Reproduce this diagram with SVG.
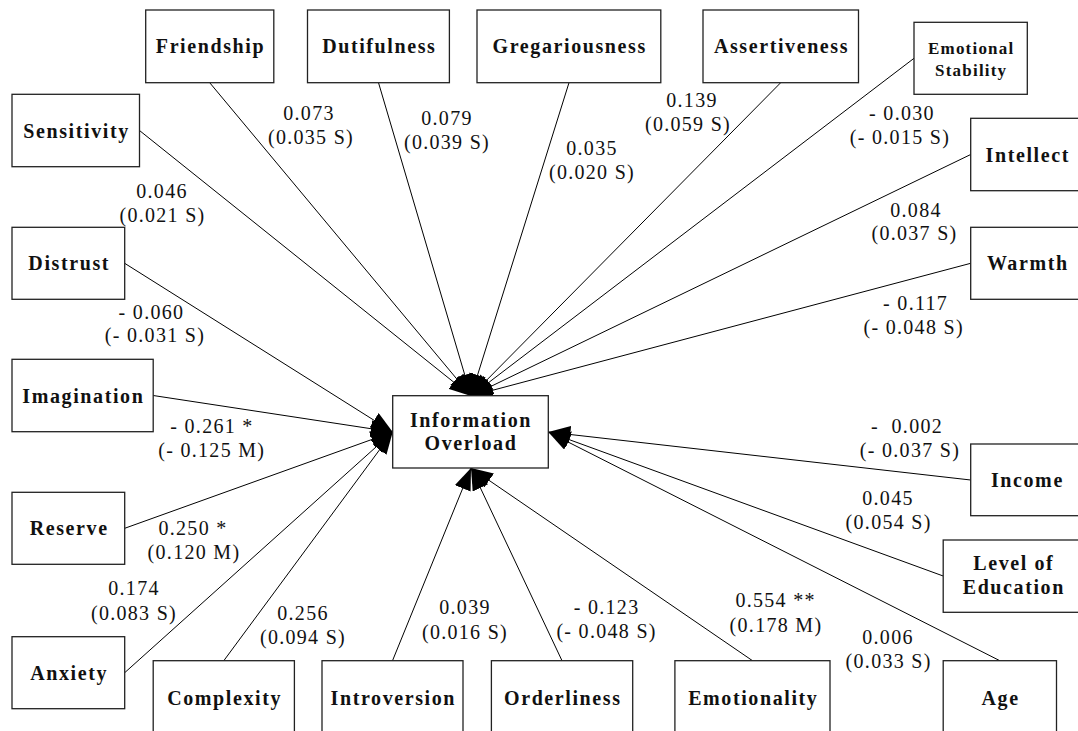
<svg xmlns="http://www.w3.org/2000/svg" width="1078" height="731" viewBox="0 0 1078 731">
<style>
.box{fill:#fff;stroke:#222;stroke-width:1.3}
.nl{font-family:"Liberation Serif","Times New Roman",serif;font-weight:bold;font-size:20px;letter-spacing:1.6px;text-anchor:middle;fill:#111}
.ns{font-size:17px;letter-spacing:1.2px}
.el{font-family:"Liberation Serif","Times New Roman",serif;font-size:20px;letter-spacing:1.3px;text-anchor:middle;fill:#111}
.ed{stroke:#000;stroke-width:1;fill:none;marker-end:url(#ah)}
</style>
<defs>
<marker id="ah" viewBox="0 0 22 17" refX="22" refY="8.5" markerWidth="22" markerHeight="17" orient="auto" markerUnits="userSpaceOnUse"><path d="M0,0 L22,8.5 L0,17 z" fill="#000"/></marker>
</defs>
<rect width="1078" height="731" fill="#fff"/>
<g id="connectors">
<line class="ed" x1="139.5" y1="130.5" x2="471" y2="396"/>
<line class="ed" x1="209.7" y1="82.7" x2="471" y2="396"/>
<line class="ed" x1="378.5" y1="82.7" x2="471" y2="396"/>
<line class="ed" x1="569" y1="82.7" x2="471" y2="396"/>
<line class="ed" x1="780.7" y1="82.7" x2="471" y2="396"/>
<line class="ed" x1="914" y1="58.3" x2="471" y2="396"/>
<line class="ed" x1="970.7" y1="154.5" x2="471" y2="396"/>
<line class="ed" x1="970.7" y1="263.3" x2="471" y2="396"/>
<line class="ed" x1="970.7" y1="480" x2="548.3" y2="432"/>
<line class="ed" x1="943.2" y1="576" x2="548.3" y2="432"/>
<line class="ed" x1="999.8" y1="660.7" x2="548.3" y2="432"/>
<line class="ed" x1="752.5" y1="660.7" x2="471" y2="468"/>
<line class="ed" x1="562" y1="660.7" x2="471" y2="468"/>
<line class="ed" x1="392.5" y1="660.7" x2="471" y2="468"/>
<line class="ed" x1="223.8" y1="660.7" x2="392.7" y2="432"/>
<line class="ed" x1="124.7" y1="672.7" x2="392.7" y2="432"/>
<line class="ed" x1="124.7" y1="528.3" x2="392.7" y2="432"/>
<line class="ed" x1="153.2" y1="395.5" x2="392.7" y2="432"/>
<line class="ed" x1="124.7" y1="263.3" x2="392.7" y2="432"/>
</g>
<g id="edge-labels">
<text class="el" x="162" y="198">0.046</text><text class="el" x="162.5" y="222">(0.021 S)</text>
<text class="el" x="309" y="120">0.073</text><text class="el" x="311" y="144">(0.035 S)</text>
<text class="el" x="447" y="125">0.079</text><text class="el" x="447" y="149">(0.039 S)</text>
<text class="el" x="592" y="155">0.035</text><text class="el" x="592" y="179">(0.020 S)</text>
<text class="el" x="692" y="107">0.139</text><text class="el" x="688" y="131">(0.059 S)</text>
<text class="el" x="902" y="120">- 0.030</text><text class="el" x="900" y="144">(- 0.015 S)</text>
<text class="el" x="916" y="217">0.084</text><text class="el" x="914.5" y="240">(0.037 S)</text>
<text class="el" x="915.6" y="310">- 0.117</text><text class="el" x="913.7" y="334">(- 0.048 S)</text>
<text class="el" x="907" y="433" xml:space="preserve">-  0.002</text><text class="el" x="910" y="457">(- 0.037 S)</text>
<text class="el" x="888" y="505">0.045</text><text class="el" x="888.7" y="529">(0.054 S)</text>
<text class="el" x="888" y="644">0.006</text><text class="el" x="888.7" y="668">(0.033 S)</text>
<text class="el" x="775.6" y="607">0.554 **</text><text class="el" x="776" y="632">(0.178 M)</text>
<text class="el" x="606.6" y="614">- 0.123</text><text class="el" x="606.6" y="638">(- 0.048 S)</text>
<text class="el" x="465" y="614">0.039</text><text class="el" x="465" y="638.5">(0.016 S)</text>
<text class="el" x="303" y="620">0.256</text><text class="el" x="303" y="644">(0.094 S)</text>
<text class="el" x="134" y="595">0.174</text><text class="el" x="134" y="619.5">(0.083 S)</text>
<text class="el" x="193" y="535">0.250 *</text><text class="el" x="194" y="559">(0.120 M)</text>
<text class="el" x="212" y="433">- 0.261 *</text><text class="el" x="211.8" y="457">(- 0.125 M)</text>
<text class="el" x="151.5" y="318.7">- 0.060</text><text class="el" x="155" y="342">(- 0.031 S)</text>
</g>
<g id="n-info"><rect class="box" x="392.7" y="395.7" width="155.6" height="72.3"/><text class="nl" x="471" y="427">Information</text><text class="nl" x="471" y="450">Overload</text></g>
<g id="n-friendship"><rect class="box" x="145.7" y="10" width="128.1" height="72.7"/><text class="nl" x="210.5" y="53.3">Friendship</text></g>
<g id="n-dutifulness"><rect class="box" x="307.5" y="10" width="141.9" height="72.7"/><text class="nl" x="379.3" y="53.3">Dutifulness</text></g>
<g id="n-gregariousness"><rect class="box" x="477" y="10" width="183.8" height="72.7"/><text class="nl" x="569.7" y="53.3">Gregariousness</text></g>
<g id="n-assertiveness"><rect class="box" x="703" y="10" width="155.5" height="72.7"/><text class="nl" x="781.5" y="53.3">Assertiveness</text></g>
<g id="n-emotional-stability"><rect class="box" x="914" y="22.3" width="113.3" height="72"/><text class="nl ns" x="971.2" y="54">Emotional</text><text class="nl ns" x="971.2" y="75.7">Stability</text></g>
<g id="n-sensitivity"><rect class="box" x="12" y="94.3" width="127.5" height="72.4"/><text class="nl" x="76.5" y="137.5">Sensitivity</text></g>
<g id="n-intellect"><rect class="box" x="970.7" y="118.3" width="112.3" height="72.4"/><text class="nl" x="1027.8" y="162">Intellect</text></g>
<g id="n-distrust"><rect class="box" x="12" y="227.3" width="112.7" height="72"/><text class="nl" x="69.2" y="270">Distrust</text></g>
<g id="n-warmth"><rect class="box" x="970.7" y="227.3" width="112.3" height="72"/><text class="nl" x="1027.8" y="270">Warmth</text></g>
<g id="n-imagination"><rect class="box" x="12" y="359.3" width="141.2" height="72.4"/><text class="nl" x="83.4" y="402.5">Imagination</text></g>
<g id="n-income"><rect class="box" x="970.7" y="444" width="112.3" height="71.7"/><text class="nl" x="1027.4" y="487">Income</text></g>
<g id="n-level-of-education"><rect class="box" x="943.2" y="540" width="139.8" height="72.3"/><text class="nl" x="1013.8" y="570">Level of</text><text class="nl" x="1013.8" y="594">Education</text></g>
<g id="n-reserve"><rect class="box" x="12" y="492.3" width="112.7" height="72"/><text class="nl" x="69.2" y="535">Reserve</text></g>
<g id="n-anxiety"><rect class="box" x="12" y="636.7" width="112.7" height="72"/><text class="nl" x="69.2" y="679.5">Anxiety</text></g>
<g id="n-complexity"><rect class="box" x="153.2" y="660.7" width="141.2" height="72.3"/><text class="nl" x="224.6" y="704.5">Complexity</text></g>
<g id="n-introversion"><rect class="box" x="322" y="660.7" width="141" height="72.3"/><text class="nl" x="393.3" y="704.5">Introversion</text></g>
<g id="n-orderliness"><rect class="box" x="491.4" y="660.7" width="141.3" height="72.3"/><text class="nl" x="562.8" y="704.5">Orderliness</text></g>
<g id="n-emotionality"><rect class="box" x="674.9" y="660.7" width="155.1" height="72.3"/><text class="nl" x="753.3" y="704.5">Emotionality</text></g>
<g id="n-age"><rect class="box" x="943.2" y="660.7" width="113.3" height="72.3"/><text class="nl" x="1000.6" y="704.5">Age</text></g>
</svg>
